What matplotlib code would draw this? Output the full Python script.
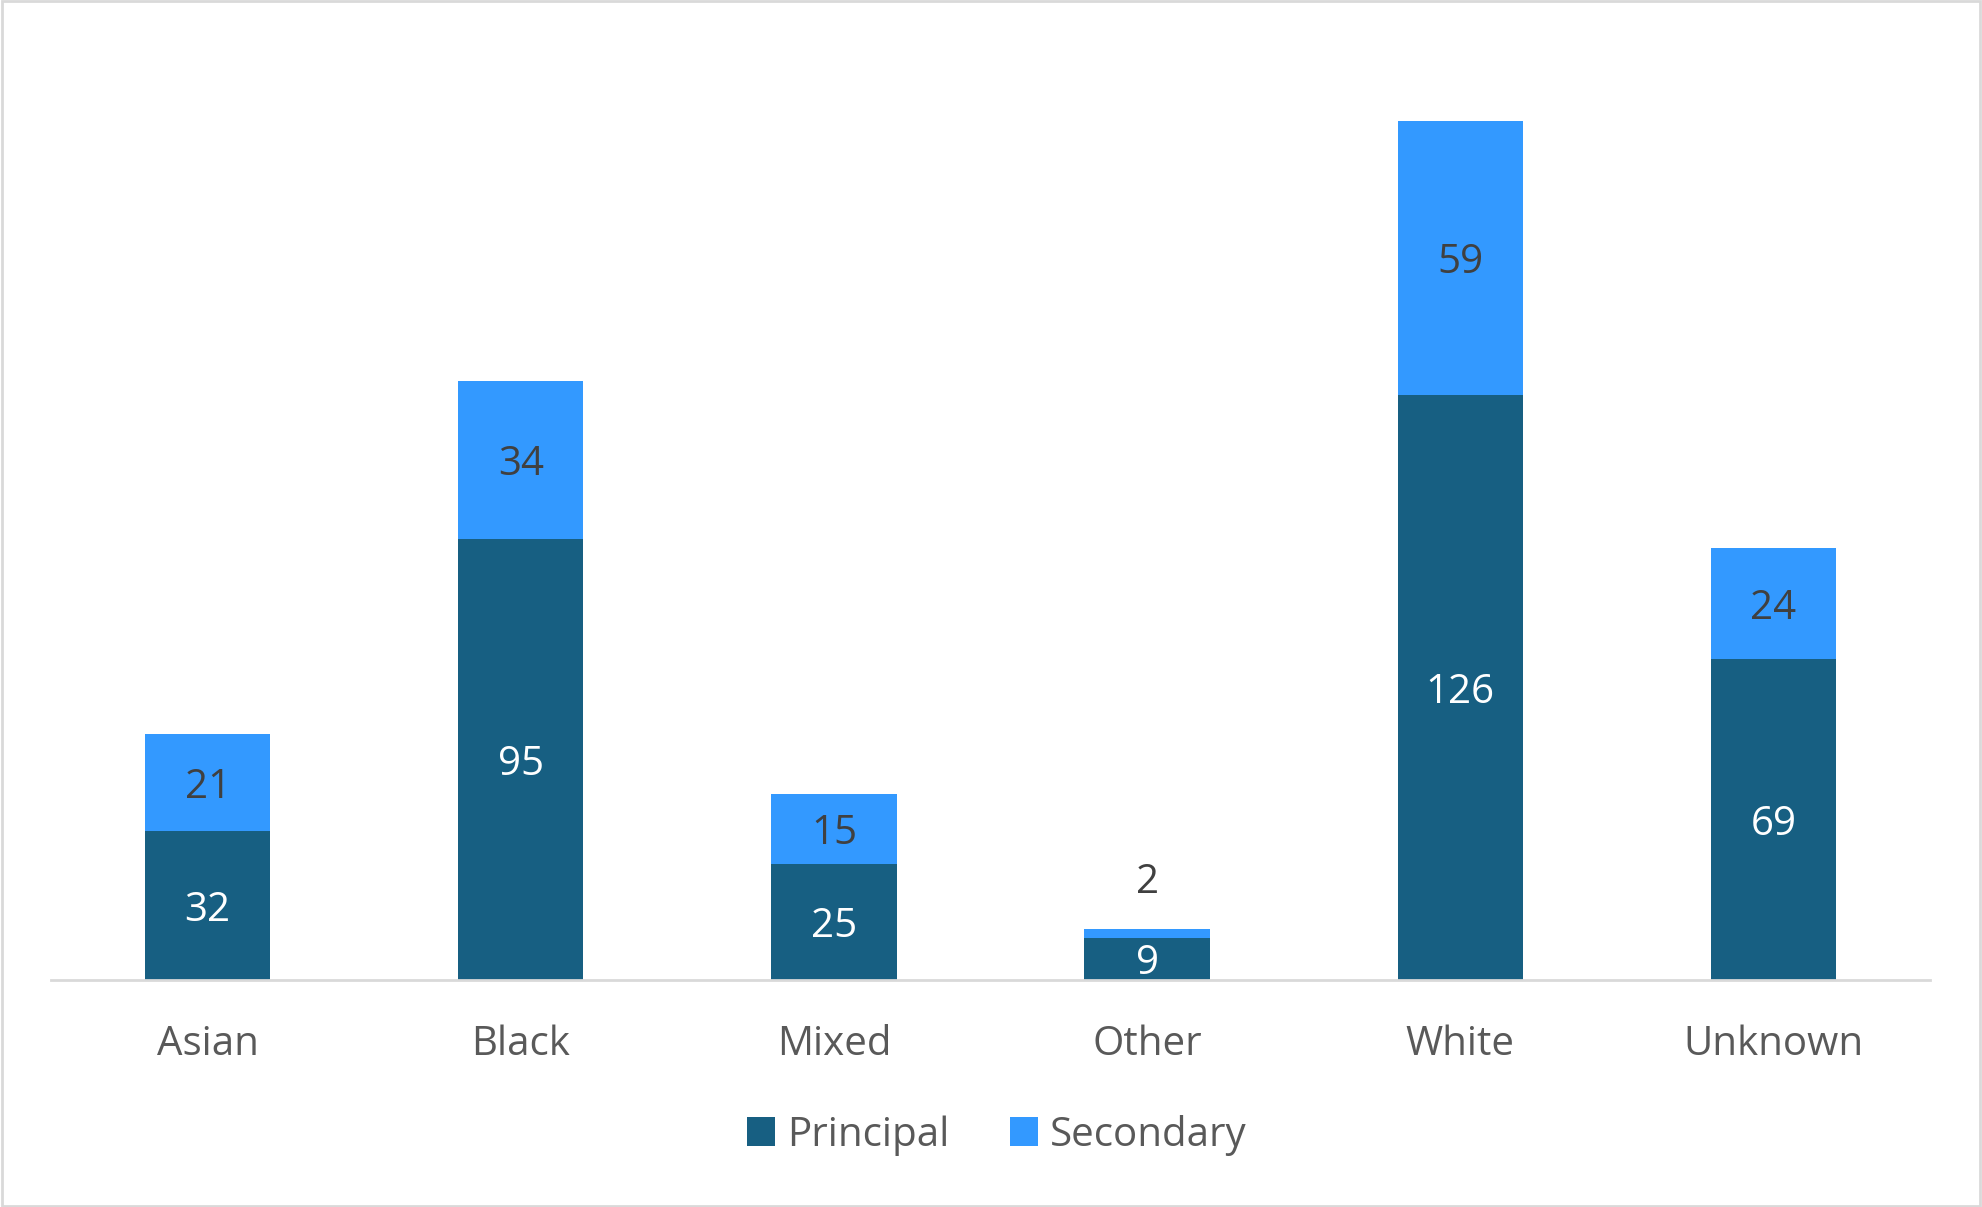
import matplotlib.pyplot as plt
from matplotlib.patches import Rectangle

categories = ["Asian", "Black", "Mixed", "Other", "White", "Unknown"]
principal = [32, 95, 25, 9, 126, 69]
secondary = [21, 34, 15, 2, 59, 24]

plt.rcParams['font.family'] = ['Open Sans', 'DejaVu Sans']

W, H = 1982, 1207
fig = plt.figure(figsize=(W / 100, H / 100), dpi=100)

# plot area in pixels (left, top, right, baseline)
left, top, right, base = 51, 51, 1930, 980
ax = fig.add_axes([left / W, 1 - base / H, (right - left) / W, (base - top) / H])

dark = "#175F82"
light = "#3399FF"
x = range(len(categories))
b1 = ax.bar(x, principal, width=0.4, color=dark, label="Principal")
b2 = ax.bar(x, secondary, width=0.4, bottom=principal, color=light, label="Secondary")

fs = 29
for i, (p, s) in enumerate(zip(principal, secondary)):
    ax.text(i, p / 2, str(p), ha='center', va='center_baseline', color='white', fontsize=fs)
    if s < 5:
        ax.text(i, p + s + 11, str(s), ha='center', va='center_baseline', color='#404040', fontsize=fs)
    else:
        ax.text(i, p + s / 2, str(s), ha='center', va='center_baseline', color='#404040', fontsize=fs)

ax.set_xlim(-0.5, len(categories) - 0.5)
ax.set_ylim(0, 200)
ax.set_xticks(list(x))
ax.set_xticklabels(categories, fontsize=fs, color='#595959')
ax.tick_params(axis='x', length=0, pad=32)
ax.set_yticks([])
for sp in ['top', 'left', 'right']:
    ax.spines[sp].set_visible(False)
ax.spines['bottom'].set_color('#D9D9D9')
ax.spines['bottom'].set_linewidth(2)

leg = fig.legend(handles=[b1, b2], loc='center', bbox_to_anchor=(0.503, 1 - 1135 / H),
                 ncol=2, frameon=False, fontsize=fs, handlelength=0.7, handleheight=0.7,
                 handletextpad=0.3, columnspacing=1.5)
for t in leg.get_texts():
    t.set_color('#595959')

fig.patches.append(Rectangle((0.001, 0.001), 0.998, 0.998, transform=fig.transFigure,
                             fill=False, edgecolor='#D9D9D9', linewidth=2))

fig.savefig("out.png", dpi=100)
